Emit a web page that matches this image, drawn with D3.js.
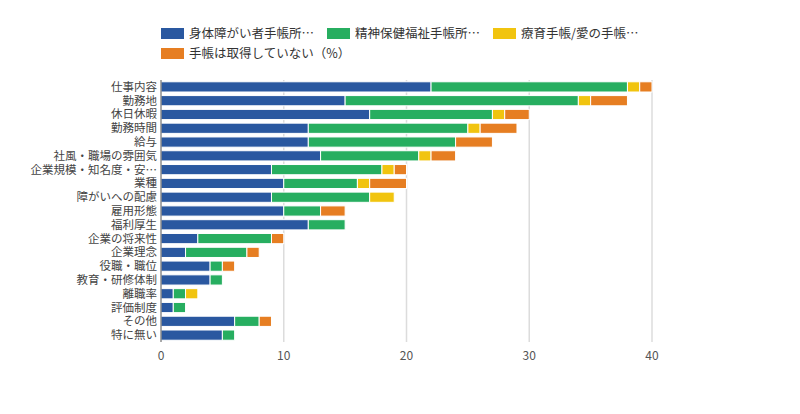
<!DOCTYPE html>
<html><head><meta charset="utf-8">
<script src="https://cdn.jsdelivr.net/npm/d3@7"></script>
<style>
body{margin:0;background:#fff;}
text{font-family:"Noto Sans CJK JP","Noto Sans",sans-serif;}
</style></head>
<body><svg id="c" width="800" height="414"></svg>
<script>
const categories = ["仕事内容","勤務地","休日休暇","勤務時間","給与","社風・職場の雰囲気","企業規模・知名度・安…","業種","障がいへの配慮","雇用形態","福利厚生","企業の将来性","企業理念","役職・職位","教育・研修体制","離職率","評価制度","その他","特に無い"];
const seriesNames = ["身体障がい者手帳所…","精神保健福祉手帳所…","療育手帳/愛の手帳…","手帳は取得していない（%）"];
const physical = [22,15,17,12,12,13,9,10,9,10,12,3,2,4,4,1,1,6,5];
const mental   = [16,19,10,13,12,8,9,6,8,3,3,6,5,1,1,1,1,2,1];
const ryoiku   = [1,1,1,1,0,1,1,1,2,0,0,0,0,0,0,1,0,0,0];
const none     = [1,3,2,3,3,2,1,3,0,2,0,1,1,1,0,0,0,1,0];
const xTicks = [0,10,20,30,40];
const colors = ["#2a58a0","#27ae60","#f1c40f","#e67e22"];

const svg = d3.select("#c");
const m = {left:161, right:148, top:80, bottom:72};
const W = 800, H = 414;
const x = d3.scaleLinear().domain([0,40]).range([m.left, W-m.right]);
const y = d3.scaleBand().domain(categories).range([m.top, H-m.bottom]).paddingInner(0.26).paddingOuter(0.13);

// grid
svg.append("g").selectAll("line").data(xTicks.filter(d=>d>0)).join("line")
  .attr("x1",d=>x(d)).attr("x2",d=>x(d)).attr("y1",m.top).attr("y2",H-m.bottom)
  .attr("stroke","#dcdcdc").attr("stroke-width",1.5);

const rows = categories.map((c,i)=>({cat:c, vals:[physical[i],mental[i],ryoiku[i],none[i]]}));
const stackData = rows.map(r=>{const o={cat:r.cat}; seriesNames.forEach((s,j)=>o[s]=r.vals[j]); return o;});
const stack = d3.stack().keys(seriesNames)(stackData);

svg.append("g").selectAll("g").data(stack).join("g")
  .attr("fill",(d,i)=>colors[i])
  .selectAll("rect").data(d=>d.filter(p=>p[1]-p[0]>0)).join("rect")
  .attr("x",d=>x(d[0])).attr("width",d=>x(d[1])-x(d[0]))
  .attr("y",d=>y(d.data.cat)).attr("height",y.bandwidth())
  .attr("stroke","#fff").attr("stroke-width",1);

// x axis labels
svg.append("g").selectAll("text").data(xTicks).join("text")
  .attr("x",d=>x(d)).attr("y",H-m.bottom+18).attr("text-anchor","middle")
  .attr("font-size",12).attr("fill","#555").text(d=>d);

// y axis line
svg.append("line").attr("x1",m.left).attr("x2",m.left).attr("y1",m.top).attr("y2",H-m.bottom)
  .attr("stroke","#555").attr("stroke-width",1);

// y labels
svg.append("g").selectAll("text").data(categories).join("text")
  .attr("x",m.left-4).attr("y",d=>y(d)+y.bandwidth()/2).attr("dy","0.35em")
  .attr("text-anchor","end").attr("font-size",11.5).attr("fill","#444").text(d=>d);

// legend
const legPos = [[161,28],[327,28],[493,28],[161,48]];
const lg = svg.append("g").selectAll("g").data(seriesNames).join("g")
  .attr("transform",(d,i)=>`translate(${legPos[i][0]},${legPos[i][1]})`);
lg.append("rect").attr("width",23).attr("height",11).attr("fill",(d,i)=>colors[i]);
lg.append("text").attr("x",28).attr("y",6).attr("dy","0.35em").attr("font-size",12.5).attr("fill","#333").text(d=>d);
</script></body></html>
